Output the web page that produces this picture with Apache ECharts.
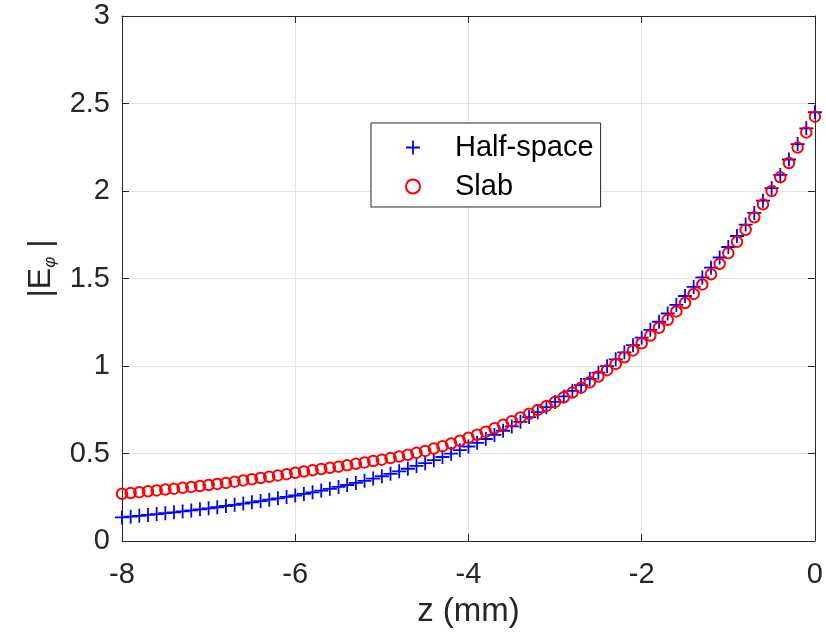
<!DOCTYPE html>
<html>
<head>
<meta charset="utf-8">
<script src="https://cdn.jsdelivr.net/npm/echarts@6/dist/echarts.min.js"></script>
<style>
html,body{margin:0;padding:0;background:#fff;}
#chart{width:826px;height:641px;}
</style>
</head>
<body>
<div id="chart"></div>
<script>
// z positions (mm)
const zValues = [
 -8.0,-7.9,-7.8,-7.7,-7.6,-7.5,-7.4,-7.3,-7.2,-7.1,
 -7.0,-6.9,-6.8,-6.7,-6.6,-6.5,-6.4,-6.3,-6.2,-6.1,
 -6.0,-5.9,-5.8,-5.7,-5.6,-5.5,-5.4,-5.3,-5.2,-5.1,
 -5.0,-4.9,-4.8,-4.7,-4.6,-4.5,-4.4,-4.3,-4.2,-4.1,
 -4.0,-3.9,-3.8,-3.7,-3.6,-3.5,-3.4,-3.3,-3.2,-3.1,
 -3.0,-2.9,-2.8,-2.7,-2.6,-2.5,-2.4,-2.3,-2.2,-2.1,
 -2.0,-1.9,-1.8,-1.7,-1.6,-1.5,-1.4,-1.3,-1.2,-1.1,
 -1.0,-0.9,-0.8,-0.7,-0.6,-0.5,-0.4,-0.3,-0.2,-0.1,
 0.0
];
// |E_phi| for the half-space model
const halfSpace = [
 0.135,0.139,0.144,0.149,0.154,0.159,0.164,0.169,0.175,0.181,
 0.187,0.193,0.200,0.207,0.214,0.221,0.228,0.236,0.244,0.252,
 0.260,0.269,0.278,0.288,0.298,0.309,0.320,0.332,0.344,0.357,
 0.370,0.384,0.398,0.413,0.429,0.445,0.462,0.480,0.499,0.519,
 0.540,0.561,0.583,0.606,0.630,0.655,0.681,0.708,0.736,0.765,
 0.795,0.826,0.858,0.891,0.926,0.962,0.999,1.038,1.078,1.119,
 1.162,1.207,1.253,1.300,1.349,1.400,1.452,1.506,1.562,1.620,
 1.680,1.743,1.808,1.875,1.945,2.017,2.092,2.180,2.268,2.358,
 2.450
];
// |E_phi| for the slab model
const slab = [
 0.270,0.274,0.279,0.284,0.289,0.294,0.299,0.304,0.309,0.314,
 0.320,0.326,0.332,0.339,0.346,0.353,0.360,0.367,0.375,0.382,
 0.390,0.397,0.404,0.411,0.418,0.425,0.433,0.441,0.449,0.457,
 0.465,0.474,0.483,0.493,0.504,0.515,0.528,0.542,0.557,0.573,
 0.590,0.607,0.625,0.644,0.664,0.685,0.706,0.727,0.749,0.772,
 0.795,0.821,0.848,0.876,0.907,0.940,0.976,1.012,1.050,1.089,
 1.130,1.174,1.218,1.264,1.312,1.360,1.412,1.466,1.524,1.584,
 1.645,1.710,1.778,1.850,1.924,2.000,2.078,2.160,2.248,2.335,
 2.425
];
const seriesNames = ['Half-space', 'Slab'];
const xTicks = { min: -8, max: 0, interval: 2 };
const yTicks = { min: 0, max: 3, interval: 0.5 };

const FONT = '"Liberation Sans", Arial, Helvetica, sans-serif';
const TXT = '#262626';
const PLUS = 'path://M6.1,0 H7.9 V6.1 H14 V7.9 H7.9 V14 H6.1 V7.9 H0 V6.1 H6.1 Z';

const chart = echarts.init(document.getElementById('chart'), null, { renderer: 'canvas' });

const axisCommon = {
  axisLine: { show: true, onZero: false, lineStyle: { color: TXT, width: 1 } },
  axisTick: { show: true, inside: true, length: 7, lineStyle: { color: TXT, width: 1 } },
};

chart.setOption({
  backgroundColor: '#fff',
  animation: false,
  textStyle: { fontFamily: FONT },
  grid: { left: 122, right: 8, top: 16, bottom: 100, containLabel: false },
  legend: {
    left: 371, top: 123,
    orient: 'vertical',
    padding: [10, 7, 6, 34],
    itemWidth: 74, itemHeight: 14, itemGap: 10,
    backgroundColor: '#fff',
    borderColor: TXT, borderWidth: 1, borderRadius: 0,
    textStyle: { fontSize: 29, color: '#000', fontFamily: FONT, lineHeight: 29 },
    data: [
      { name: seriesNames[0], icon: PLUS, itemStyle: { color: '#0000ff', borderWidth: 0 } },
      { name: seriesNames[1], icon: 'circle', itemStyle: { color: 'rgba(0,0,0,0)', borderColor: '#ff0000', borderWidth: 2 } }
    ]
  },
  xAxis: [{
    type: 'value', min: xTicks.min, max: xTicks.max, interval: xTicks.interval,
    position: 'bottom',
    ...axisCommon,
    splitLine: { show: true, lineStyle: { color: '#e3e3e3', width: 1 } },
    axisLabel: { fontSize: 29, color: TXT, margin: 19, fontFamily: FONT, lineHeight: 29 },
    name: 'z (mm)', nameLocation: 'middle', nameGap: 52,
    nameTextStyle: { fontSize: 33, color: TXT, fontFamily: FONT, lineHeight: 36 }
  }, {
    type: 'value', min: xTicks.min, max: xTicks.max, interval: xTicks.interval,
    position: 'top',
    ...axisCommon,
    splitLine: { show: false },
    axisLabel: { show: false }
  }],
  yAxis: [{
    type: 'value', min: yTicks.min, max: yTicks.max, interval: yTicks.interval,
    position: 'left',
    ...axisCommon,
    splitLine: { show: true, lineStyle: { color: '#e3e3e3', width: 1 } },
    axisLabel: { fontSize: 29, color: TXT, margin: 12, fontFamily: FONT },
    name: '{a||E}{s|φ}{a| |}', nameLocation: 'middle', nameGap: 60, nameRotate: 90,
    nameTextStyle: {
      color: TXT, fontFamily: FONT,
      padding: [0, 0, 0, 20],
      rich: {
        a: { fontSize: 32, color: TXT, fontFamily: FONT, lineHeight: 36, verticalAlign: 'middle' },
        s: { fontSize: 17, color: TXT, fontFamily: FONT, fontStyle: 'italic', lineHeight: 36, verticalAlign: 'bottom', padding: [0, 0, 0, 0] }
      }
    }
  }, {
    type: 'value', min: yTicks.min, max: yTicks.max, interval: yTicks.interval,
    position: 'right',
    ...axisCommon,
    splitLine: { show: false },
    axisLabel: { show: false }
  }],
  series: [{
    name: seriesNames[0],
    type: 'scatter',
    xAxisIndex: 0, yAxisIndex: 0,
    symbol: PLUS, symbolSize: 14,
    itemStyle: { color: '#0000ff', opacity: 1 },
    data: zValues.map((z, i) => [z, halfSpace[i]]),
    z: 2
  }, {
    name: seriesNames[1],
    type: 'scatter',
    xAxisIndex: 0, yAxisIndex: 0,
    symbol: 'circle', symbolSize: 10.5,
    itemStyle: { color: 'rgba(0,0,0,0)', borderColor: '#ff0000', borderWidth: 2, opacity: 1 },
    data: zValues.map((z, i) => [z, slab[i]]),
    z: 3
  }]
});
</script>
</body>
</html>
